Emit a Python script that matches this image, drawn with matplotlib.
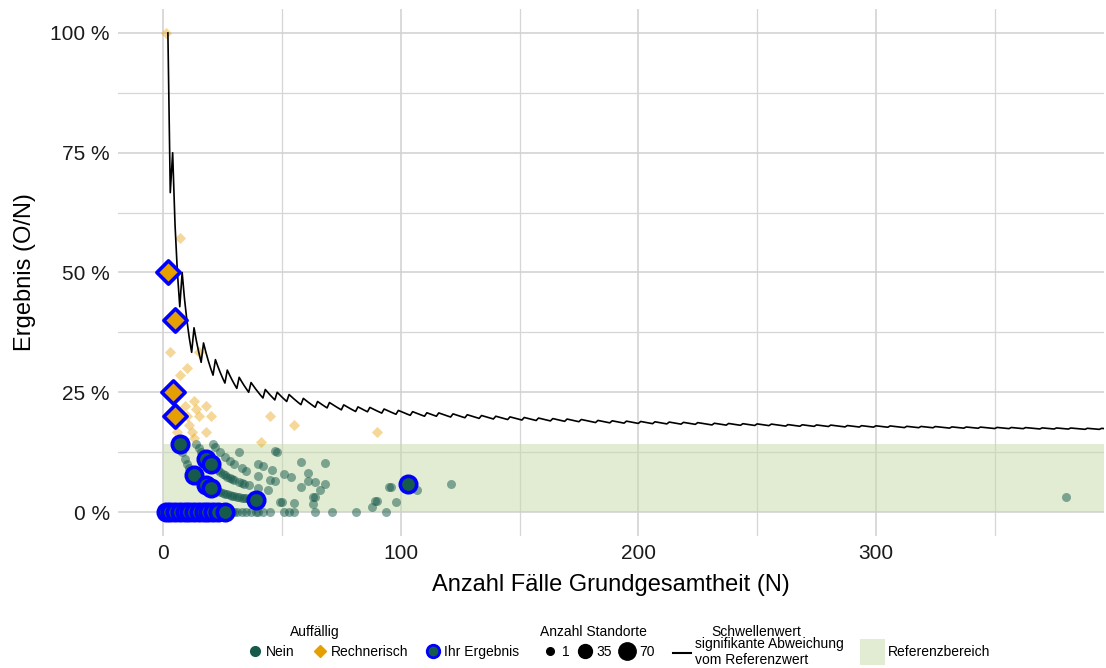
import numpy as np
import matplotlib
matplotlib.use('Agg')
import matplotlib.pyplot as plt
from matplotlib.lines import Line2D
from matplotlib.patches import Patch

# threshold: count of cases needed for a significant deviation, starts at 2 for N=2
# and goes up by one at each of these N
thr_start_n = 2
thr_start_k = 2
thr_end_n = 400
thr_steps = [4, 8, 13, 17, 22, 27, 32, 37, 43, 48, 53, 59, 65, 70, 76, 82, 87, 93,
             99, 105, 111, 116, 122, 128, 134, 140, 146, 152, 158, 164, 170, 176,
             183, 189, 195, 201, 207, 213, 219, 225, 232, 238, 244, 250, 256, 263,
             269, 275, 281, 288, 294, 300, 306, 313, 319, 325, 332, 338, 344, 351,
             357, 363, 370, 376, 382, 389, 395]

ref_low = 0.0
ref_high = 14.3

# other sites, not conspicuous (N, O)
nein_n = [2, 3, 5, 6, 8, 11, 14, 17, 20, 21, 23, 25, 27, 28, 29,
          30, 31, 33, 35, 37, 39, 40, 42, 45, 51, 53, 55, 64, 71, 81, 94,
          8, 9, 10, 11, 12, 14, 15, 16, 17, 19, 21, 22, 23, 24, 25, 26, 27, 28,
          29, 30, 31, 32, 33, 34, 35, 36, 37, 38, 49, 50, 55, 63, 88,
          14, 15, 16, 17, 19, 21, 22, 23, 24, 25, 26, 27, 28, 29, 30, 32, 33,
          34, 36, 40, 44, 63, 64, 89, 90, 98,
          21, 22, 24, 26, 28, 30, 33, 35, 40, 45, 47, 58, 66,
          32, 40, 42, 46, 51, 54, 61, 64, 68,
          61, 95, 96, 107,
          47, 48, 58,
          68, 121,
          380]
nein_o = [0] * 31 + \
         [1] * 33 + \
         [2] * 26 + \
         [3] * 13 + \
         [4] * 9 + \
         [5] * 4 + \
         [6] * 3 + \
         [7] * 2 + \
         [12]

# other sites, conspicuous by calculation (N, O)
rech_n = [1, 3, 15, 7, 10, 9, 13, 18, 14, 10, 15, 20, 6, 11, 12, 18, 13, 45, 55, 41, 90, 7]
rech_o = [1, 1, 5, 2, 3, 2, 3, 4, 3, 2, 3, 4, 1, 2, 2, 3, 2, 9, 10, 6, 15, 4]

# own results (N, O)
own_nein_n = [1, 3, 5, 7, 9, 11, 13, 15, 17, 19, 21, 23, 26,
              7, 18, 20, 13, 18, 20, 39, 103]
own_nein_o = [0] * 13 + [1, 2, 2, 1, 1, 1, 1, 6]
own_rech_n = [2, 5, 4, 5]
own_rech_o = [1, 2, 1, 1]

size_labels = ['1', '35', '70']

green = '#165a4c'
orange = '#e69f00'
blue = '#0000ff'

plt.rcParams['font.family'] = ['Liberation Sans', 'DejaVu Sans']

def pct(o, n):
    return np.array(o) / np.array(n) * 100

thr_n = np.arange(thr_start_n, thr_end_n + 1)
thr_k = thr_start_k + np.searchsorted(thr_steps, thr_n, side='right')
thr_v = thr_k / thr_n * 100

fig = plt.figure(figsize=(11.06, 6.68), dpi=100)
ax = fig.add_axes([118/1106, 1-536/668, 986/1106, 527/668])

ax.axhspan(ref_low, ref_high, xmin=(0 + 19) / (396 + 19), xmax=1,
           facecolor='#c5dba8', alpha=0.5, lw=0, zorder=1)

ax.scatter(nein_n, pct(nein_o, nein_n), s=42, color=green, alpha=0.5, lw=0, zorder=2)
ax.scatter(rech_n, pct(rech_o, rech_n), s=32, marker='D', color=orange, alpha=0.4,
           lw=0, zorder=2)
ax.plot(thr_n, thr_v, color='black', lw=1.2, zorder=3)
ax.scatter(own_nein_n, pct(own_nein_o, own_nein_n), s=140, color=green,
           edgecolors=blue, linewidths=2.6, zorder=4)
ax.scatter(own_rech_n, pct(own_rech_o, own_rech_n), s=140, marker='D', color=orange,
           edgecolors=blue, linewidths=2.6, zorder=4)

ax.set_xlim(-19, 396)
ax.set_ylim(-5, 105)
ax.set_xticks([0, 100, 200, 300])
ax.set_xticks([50, 150, 250, 350], minor=True)
ax.set_yticks([0, 25, 50, 75, 100])
ax.set_yticklabels(['0 %', '25 %', '50 %', '75 %', '100 %'])
ax.set_yticks([12.5, 37.5, 62.5, 87.5], minor=True)
ax.grid(True, which='major', color='#d0d0d0', lw=1.1, zorder=0)
ax.grid(True, which='minor', color='#d6d6d6', lw=0.9, zorder=0)
ax.set_axisbelow(True)
for s in ax.spines.values():
    s.set_visible(False)
ax.tick_params(which='both', length=0, labelsize=15, colors='#1a1a1a', pad=6)
ax.set_xlabel('Anzahl Fälle Grundgesamtheit (N)', fontsize=17, labelpad=8)
ax.set_ylabel('Ergebnis (O/N)', fontsize=17, labelpad=10)

# legends
ly = 1 - 652/668
h1 = [Line2D([], [], ls='', marker='o', ms=7, mfc=green, mec=green),
      Line2D([], [], ls='', marker='D', ms=6, mfc=orange, mec=orange),
      Line2D([], [], ls='', marker='o', ms=9, mfc=green, mec=blue, mew=2)]
fig.legend(h1, ['Nein', 'Rechnerisch', 'Ihr Ergebnis'], loc='center left',
           bbox_to_anchor=(241/1106, ly), ncol=3, frameon=False, fontsize=10,
           handlelength=1, handletextpad=0.3, columnspacing=1.3, borderpad=0)
fig.text(315/1106, 1 - 632/668, 'Auffällig', fontsize=10, ha='center', va='center')

h2 = [Line2D([], [], ls='', marker='o', ms=s, mfc='black', mec='black')
      for s in [5.5, 10, 12.5]]
fig.legend(h2, size_labels, loc='center left', bbox_to_anchor=(536/1106, ly),
           ncol=3, frameon=False, fontsize=10, handlelength=1, handletextpad=0.35,
           columnspacing=0.6, borderpad=0)
fig.text(593/1106, 1 - 632/668, 'Anzahl Standorte', fontsize=10, ha='center', va='center')

h3 = [Line2D([], [], color='black', lw=1.5)]
fig.legend(h3, ['signifikante Abweichung\nvom Referenzwert'], loc='center left',
           bbox_to_anchor=(666/1106, ly), frameon=False, fontsize=10,
           handlelength=1.3, handletextpad=0.3, borderpad=0, labelspacing=0)
fig.text(756/1106, 1 - 632/668, 'Schwellenwert', fontsize=10, ha='center', va='center')

h4 = [Patch(facecolor='#c5dba8', alpha=0.5, lw=0)]
fig.legend(h4, ['Referenzbereich'], loc='center left', bbox_to_anchor=(853/1106, ly),
           frameon=False, fontsize=10, handlelength=1.8, handleheight=2.6,
           handletextpad=0.2, borderpad=0)

fig.savefig('out.png')
